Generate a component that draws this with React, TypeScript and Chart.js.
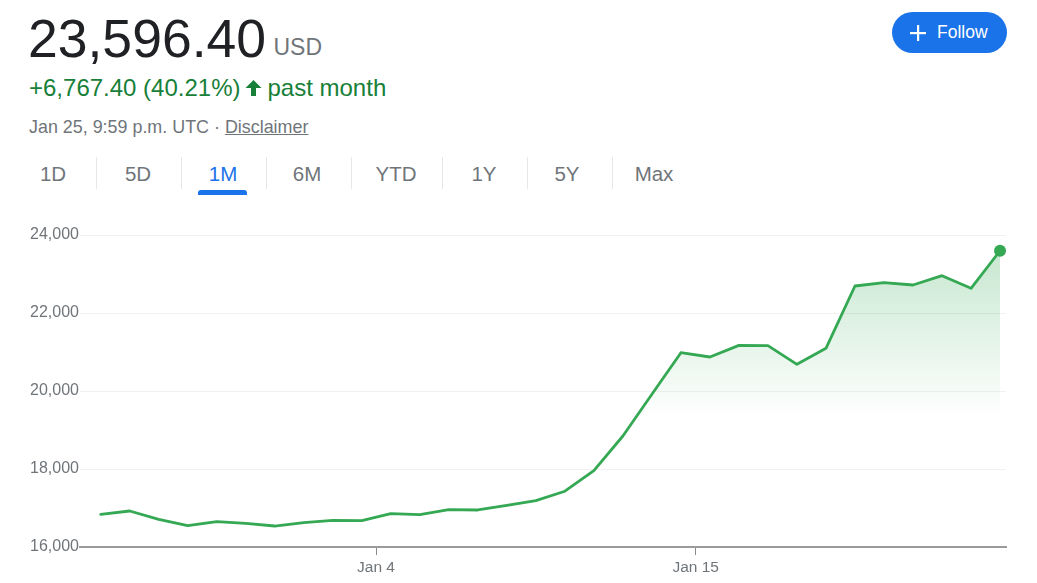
import React, { useEffect, useRef } from "react";
import { Chart, registerables } from "chart.js";

Chart.register(...registerables);

// ---- data ----
const values: number[] = [
  16838, 16923, 16710, 16547, 16650, 16607, 16538, 16624, 16684, 16675,
  16855, 16829, 16957, 16949, 17068, 17188, 17430, 17960, 18846, 19915,
  20982, 20872, 21171, 21165, 20684, 21094, 22692, 22777, 22718, 22957,
  22633, 23596.4,
];
const yTickValues: number[] = [16000, 18000, 20000, 22000, 24000];
const xTickPositions: number[] = [9.49, 20.51];
const xTickLabels: string[] = ["Jan 4", "Jan 15"];
const rangeTabs: string[] = ["1D", "5D", "1M", "6M", "YTD", "1Y", "5Y", "Max"];
const tabCenters: number[] = [53, 138, 223, 307, 396, 484, 567, 654];
const tabSeparators: number[] = [96, 181, 266, 351, 442, 527, 612];
const activeTab = "1M";

const FONT = "Arial, 'Liberation Sans', Helvetica, sans-serif";
const GREEN = "#34a853";
const GREY = "#70757a";

function PriceChart() {
  const ref = useRef<HTMLCanvasElement | null>(null);
  useEffect(() => {
    if (!ref.current) return;
    const chart = new Chart(ref.current, {
      type: "line",
      data: {
        datasets: [
          {
            data: values.map((v, i) => ({ x: i, y: v })),
            borderColor: GREEN,
            borderWidth: 2.8,
            borderJoinStyle: "round",
            borderCapStyle: "round",
            tension: 0,
            fill: "start",
            clip: false as any,
            backgroundColor: (ctx: any) => {
              const ch = ctx.chart;
              const area = ch.chartArea;
              if (!area) return "rgba(0,0,0,0)";
              const g = ch.ctx.createLinearGradient(
                0,
                area.top,
                0,
                ch.scales.y.getPixelForValue(19300)
              );
              g.addColorStop(0, "rgba(52,168,83,0.3)");
              g.addColorStop(1, "rgba(52,168,83,0)");
              return g;
            },
            pointRadius: (ctx: any) => (ctx.dataIndex === values.length - 1 ? 6 : 0),
            pointHoverRadius: (ctx: any) => (ctx.dataIndex === values.length - 1 ? 6 : 0),
            pointBackgroundColor: GREEN,
            pointBorderWidth: 0,
          } as any,
        ],
      },
      options: {
        animation: false,
        responsive: false,
        events: [],
        layout: { padding: { top: 35, right: 31, left: 0, bottom: 0 } },
        plugins: { legend: { display: false }, tooltip: { enabled: false } },
        scales: {
          x: {
            type: "linear",
            min: -0.714,
            max: 31.206,
            afterBuildTicks: (s: any) => {
              s.ticks = xTickPositions.map((v) => ({ value: v }));
            },
            afterFit: (s: any) => {
              s.height = 36;
            },
            grid: {
              drawOnChartArea: false,
              drawTicks: true,
              tickLength: 8,
              color: "#8a8a8a",
              lineWidth: 1,
            },
            border: { display: true, color: "#9a9a9a", width: 2 },
            ticks: {
              autoSkip: false,
              maxRotation: 0,
              padding: 3,
              color: GREY,
              font: { family: FONT, size: 15.5 },
              callback: (v: any) => {
                const idx = xTickPositions.findIndex((p) => Math.abs(p - Number(v)) < 1e-6);
                return idx >= 0 ? xTickLabels[idx] : "";
              },
            },
          },
          y: {
            min: 16000,
            max: 24000,
            afterBuildTicks: (s: any) => {
              s.ticks = yTickValues.map((v) => ({ value: v }));
            },
            afterFit: (s: any) => {
              s.width = 80;
            },
            grid: {
              drawTicks: false,
              lineWidth: 1,
              color: (ctx: any) =>
                ctx.tick && ctx.tick.value === 16000 ? "rgba(0,0,0,0)" : "#f1f1f1",
            },
            border: { display: false },
            ticks: {
              padding: 1,
              color: GREY,
              font: { family: FONT, size: 16, lineHeight: 1.0 },
              callback: (v: any) => Number(v).toLocaleString("en-US"),
            },
          },
        },
      } as any,
    });
    return () => chart.destroy();
  }, []);
  return (
    <canvas
      ref={ref}
      width={1037}
      height={383}
      style={{ position: "absolute", left: 0, top: 200, width: 1037, height: 383 }}
    />
  );
}

export default function App() {
  return (
    <div
      style={{
        position: "fixed",
        left: 0,
        top: 0,
        width: 1037,
        height: 583,
        background: "#fff",
        fontFamily: FONT,
        overflow: "hidden",
      }}
    >
      <div style={{ position: "absolute", left: 28, top: 12, fontSize: 53.5, lineHeight: "53.5px", color: "#202124" }}>
        23,596.40
      </div>
      <div style={{ position: "absolute", left: 273.5, top: 35.5, fontSize: 23, lineHeight: "23px", color: GREY }}>
        USD
      </div>
      <div
        style={{
          position: "absolute",
          left: 29,
          top: 76.3,
          fontSize: 24,
          lineHeight: "24px",
          color: "#188038",
          whiteSpace: "nowrap",
          display: "flex",
          alignItems: "baseline",
        }}
      >
        <span>+6,767.40 (40.21%)</span>
        <svg width={17} height={16} viewBox="0 0 17 16" style={{ margin: "0 6px 0 4px", alignSelf: "center" }}>
          <path d="M8.5 0 L16.5 8 L11 8 L11 16 L6 16 L6 8 L0.5 8 Z" fill="#188038" />
        </svg>
        <span>past month</span>
      </div>
      <div
        style={{
          position: "absolute",
          left: 29,
          top: 119,
          fontSize: 17.9,
          lineHeight: "17.9px",
          color: GREY,
          whiteSpace: "nowrap",
        }}
      >
        Jan 25, 9:59 p.m. UTC · <span style={{ textDecoration: "underline" }}>Disclaimer</span>
      </div>

      {rangeTabs.map((t, i) => (
        <div
          key={t}
          style={{
            position: "absolute",
            left: tabCenters[i] - 40,
            width: 80,
            textAlign: "center",
            top: 164.3,
            fontSize: 20.5,
            lineHeight: "20.5px",
            color: t === activeTab ? "#1a73e8" : GREY,
          }}
        >
          {t}
        </div>
      ))}
      {tabSeparators.map((x) => (
        <div
          key={x}
          style={{ position: "absolute", left: x, top: 157, width: 1, height: 32, background: "#e6e7e9" }}
        />
      ))}
      <div
        style={{
          position: "absolute",
          left: 198,
          top: 190,
          width: 49,
          height: 5,
          background: "#1a73e8",
          borderRadius: "3px 3px 0 0",
        }}
      />

      <div
        style={{
          position: "absolute",
          left: 892,
          top: 12,
          width: 115,
          height: 41,
          borderRadius: 21,
          background: "#1a73e8",
          color: "#fff",
        }}
      >
        <svg width={16} height={16} viewBox="0 0 16 16" style={{ position: "absolute", left: 17.5, top: 12.5 }}>
          <rect x={7} y={0} width={2.2} height={16} fill="#fff" />
          <rect x={0} y={7} width={16} height={2.2} fill="#fff" />
        </svg>
        <div style={{ position: "absolute", left: 45, top: 11.5, fontSize: 17.5, lineHeight: "17.5px" }}>Follow</div>
      </div>

      <PriceChart />
    </div>
  );
}
